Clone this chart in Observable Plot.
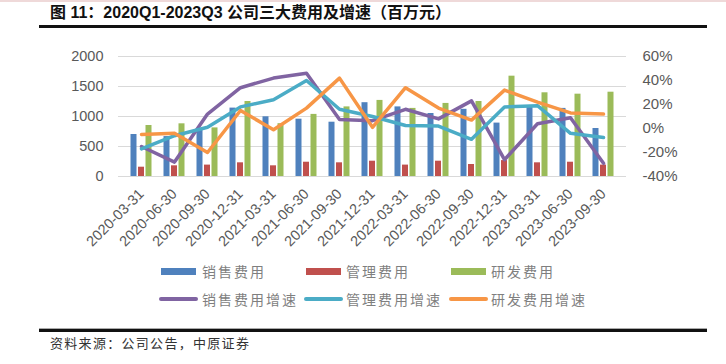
<!DOCTYPE html>
<html><head><meta charset="utf-8">
<script src="https://cdn.jsdelivr.net/npm/d3@7"></script>
<script src="https://cdn.jsdelivr.net/npm/@observablehq/plot@0.6"></script>
<style>
body{margin:0;background:#fff;}
#wrap{position:relative;width:726px;height:364px;overflow:hidden;background:#fff;font-family:"Noto Sans CJK SC",sans-serif;}
.abs{position:absolute;}
#chart svg{position:absolute;left:0;top:0;}
.lg{position:absolute;font-size:14px;letter-spacing:2px;color:#7f7f7f;line-height:18px;white-space:nowrap;}
</style></head><body>
<div id="wrap">
  <div class="abs" style="left:0;top:0;width:726px;height:2px;background:#efd9d9"></div>
  <div class="abs" id="title" style="left:50px;top:3px;font-size:16px;line-height:20px;font-weight:bold;color:#111;font-family:'Liberation Sans','Noto Sans CJK SC',sans-serif;white-space:nowrap;"></div>
  <div class="abs" style="left:39px;top:25px;width:668px;height:3px;background:#111"></div>
  <div id="chart" class="abs" style="left:0;top:30px;width:726px;height:225px"></div>
  <div id="legend"></div>
  <div class="abs" style="left:39px;top:328px;width:668px;height:1px;background:#aaa"></div>
  <div class="abs" style="left:39px;top:329px;width:668px;height:3px;background:#111"></div>
  <div class="abs" id="source" style="left:50px;top:335px;font-size:13px;letter-spacing:1.3px;line-height:16px;color:#333;white-space:nowrap;"></div>
</div>
<script>
const titleText = "图 11：2020Q1-2023Q3 公司三大费用及增速（百万元）";
const sourceText = "资料来源：公司公告，中原证券";
const dates = ["2020-03-31","2020-06-30","2020-09-30","2020-12-31","2021-03-31","2021-06-30","2021-09-30","2021-12-31","2022-03-31","2022-06-30","2022-09-30","2022-12-31","2023-03-31","2023-06-30","2023-09-30"];
const barNames = ["销售费用","管理费用","研发费用"];
const lineNames = ["销售费用增速","管理费用增速","研发费用增速"];
const sales = [700, 665, 800, 1140, 995, 955, 905, 1230, 1160, 1050, 1120, 890, 1170, 1135, 800];
const admin = [155, 178, 190, 228, 178, 238, 228, 255, 190, 255, 200, 265, 228, 238, 190];
const rd = [850, 878, 810, 1250, 880, 1035, 1160, 1268, 1135, 1218, 1250, 1672, 1395, 1372, 1405];
const salesGrowth = [-15, -28, 12, 34, 42, 46, 7.5, 6.5, 16, 8, 23, -26, 4, 9, -29];
const adminGrowth = [-17, -6, 1, 18, 24, 40, 16, 10, 2.5, 2, -9, 18, 19, -4, -7.5];
const rdGrowth = [-5, -4, -20, 15, -1, 17, 42, 1, 34, 17, 7, 32, 22, 13, 12];
const leftTicks = [0, 500, 1000, 1500, 2000];
const rightTicks = [-40, -20, 0, 20, 40, 60];
const barColors = ["#4f81bd", "#c0504d", "#9bbb59"];
const lineColors = ["#8064a2", "#4bacc6", "#f79646"];

document.getElementById("title").textContent = titleText;
document.getElementById("source").textContent = sourceText;

const W = 726, H = 225, ML = 118, MR = 100, MT = 26, MB = 79;
const toRows = arr => arr.map((v, i) => ({date: dates[i], v}));
const barSeries = [sales, admin, rd].map(toRows);
const lineSeries = [salesGrowth, adminGrowth, rdGrowth].map(toRows);
const offsets = [-7.5, 0, 7.5];

const p1 = Plot.plot({
  width: W, height: H, marginLeft: ML, marginRight: MR, marginTop: MT, marginBottom: MB,
  style: {background: "transparent", color: "#595959", fontFamily: "'Liberation Sans',Arial,sans-serif", fontSize: "14.5px"},
  x: {type: "band", domain: dates, paddingInner: 0.823, paddingOuter: 0.41, tickRotate: -45, tickSize: 0, tickPadding: 15, label: null},
  y: {domain: [0, 2000], ticks: leftTicks, tickFormat: d => String(d), tickSize: 0, tickPadding: 15, label: null},
  marks: [
    Plot.ruleY(leftTicks, {stroke: "#d9d9d9", strokeWidth: 1}),
    ...barSeries.map((rows, k) => Plot.barY(rows, {x: "date", y: "v", fill: barColors[k], dx: offsets[k]}))
  ]
});

const p2 = Plot.plot({
  width: W, height: H, marginLeft: ML, marginRight: MR, marginTop: MT, marginBottom: MB,
  style: {background: "transparent", color: "#595959", fontFamily: "'Liberation Sans',Arial,sans-serif", fontSize: "15px"},
  x: {type: "point", domain: dates, padding: 0.5, axis: null},
  y: {domain: [-40, 60], ticks: rightTicks, tickFormat: d => d + "%", axis: "right", tickSize: 0, tickPadding: 16, label: null},
  marks: lineSeries.map((rows, k) => Plot.line(rows, {x: "date", y: "v", stroke: lineColors[k], strokeWidth: 3.5, strokeLinejoin: "round", strokeLinecap: "round"}))
});
const chart = document.getElementById("chart");
chart.appendChild(p1);
chart.appendChild(p2);

// legend
const lg = document.getElementById("legend");
const colX = [[161, 202], [306, 346], [451, 491]];
barNames.forEach((n, k) => {
  const sw = document.createElement("div");
  sw.className = "abs";
  sw.style.cssText = `left:${colX[k][0]}px;top:268px;width:35px;height:7px;background:${barColors[k]}`;
  lg.appendChild(sw);
  const t = document.createElement("div");
  t.className = "lg"; t.textContent = n;
  t.style.left = colX[k][1] + "px"; t.style.top = "262px";
  lg.appendChild(t);
});
const colX2 = [[159, 202], [304, 346], [449, 491]];
lineNames.forEach((n, k) => {
  const sw = document.createElement("div");
  sw.className = "abs";
  sw.style.cssText = `left:${colX2[k][0]}px;top:297px;width:39px;height:4px;border-radius:2px;background:${lineColors[k]}`;
  lg.appendChild(sw);
  const t = document.createElement("div");
  t.className = "lg"; t.textContent = n;
  t.style.left = colX2[k][1] + "px"; t.style.top = "290px";
  lg.appendChild(t);
});
</script>
</body></html>
